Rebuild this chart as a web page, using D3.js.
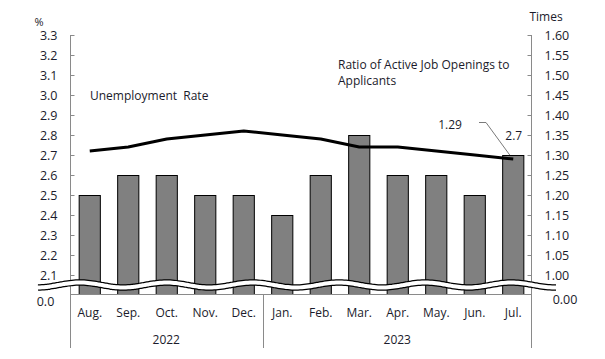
<!DOCTYPE html>
<html>
<head>
<meta charset="utf-8">
<script src="https://cdn.jsdelivr.net/npm/d3@7"></script>
<style>
  body { margin: 0; background: #fff; }
  svg text { font-family: "Open Sans", "Noto Sans", sans-serif; fill: #1b1b2b; }
</style>
</head>
<body>
<svg id="chart" width="605" height="359"></svg>
<script>
// data
var months = ["Aug.", "Sep.", "Oct.", "Nov.", "Dec.", "Jan.", "Feb.", "Mar.", "Apr.", "May.", "Jun.", "Jul."];
var years = [{ label: "2022", first: 0, last: 4 }, { label: "2023", first: 5, last: 11 }];
var unemployment = [2.5, 2.6, 2.6, 2.5, 2.5, 2.4, 2.6, 2.8, 2.6, 2.6, 2.5, 2.7];
var ratio = [1.31, 1.32, 1.34, 1.35, 1.36, 1.35, 1.34, 1.32, 1.32, 1.31, 1.30, 1.29];
var leftTicks = [2.1, 2.2, 2.3, 2.4, 2.5, 2.6, 2.7, 2.8, 2.9, 3.0, 3.1, 3.2, 3.3];
var rightTicks = [1.00, 1.05, 1.10, 1.15, 1.20, 1.25, 1.30, 1.35, 1.40, 1.45, 1.50, 1.55, 1.60];

var svg = d3.select("#chart");
var plotLeft = 70, plotRight = 532, plotTop = 35, base = 294, plotBottom = 348;
var axisColor = "#8a8a8a";

var x = d3.scaleBand()
          .domain(months)
          .range([plotLeft, plotRight])
          .paddingInner(0.45)
          .paddingOuter(0.225);

var yL = d3.scaleLinear().domain([2.0, 3.3]).range([base + 1, plotTop]);
var yR = d3.scaleLinear().domain([1.0, 1.6]).range([yL(2.1), plotTop]);

// bars
svg.append("g").selectAll("rect")
   .data(unemployment)
   .enter().append("rect")
   .attr("x", function(d, i) { return x(months[i]) + 0.5; })
   .attr("y", function(d) { return yL(d) + 0.5; })
   .attr("width", x.bandwidth())
   .attr("height", function(d) { return base - yL(d); })
   .attr("fill", "#808080")
   .attr("stroke", "#000")
   .attr("stroke-width", 1);

// axes
var leftAxis = d3.axisRight(yL).tickValues(leftTicks).tickSize(4).tickFormat(d3.format(".1f"));
var gL = svg.append("g").attr("transform", "translate(" + (plotLeft + 0.5) + ",0)").call(leftAxis);
gL.select(".domain").remove();
gL.selectAll(".tick line").attr("stroke", axisColor);
gL.selectAll(".tick text").attr("x", -13).attr("text-anchor", "end").attr("font-size", 12.5);

var rightAxis = d3.axisLeft(yR).tickValues(rightTicks).tickSize(4).tickFormat(d3.format(".2f"));
var gR = svg.append("g").attr("transform", "translate(" + (plotRight - 0.5) + ",0)").call(rightAxis);
gR.select(".domain").remove();
gR.selectAll(".tick line").attr("stroke", axisColor);
gR.selectAll(".tick text").attr("x", 13).attr("text-anchor", "start").attr("font-size", 12.5);
svg.selectAll(".tick text").attr("fill", "#1b1b2b").style("font-family", "'Open Sans', 'Noto Sans', sans-serif");

var frame = svg.append("g").attr("stroke", axisColor).attr("stroke-width", 1);
frame.append("line").attr("x1", plotLeft + 0.5).attr("x2", plotLeft + 0.5).attr("y1", plotTop).attr("y2", plotBottom);
frame.append("line").attr("x1", plotRight - 0.5).attr("x2", plotRight - 0.5).attr("y1", plotTop).attr("y2", plotBottom);
frame.append("line").attr("x1", plotLeft).attr("x2", plotRight).attr("y1", base + 0.5).attr("y2", base + 0.5);
var split = x(months[years[1].first]) - x.step() * x.paddingInner() / 2;
frame.append("line").attr("x1", Math.round(split) + 0.5).attr("x2", Math.round(split) + 0.5)
     .attr("y1", base).attr("y2", plotBottom);

// axis break wave
var wavePts = d3.range(38, 557, 2).map(function(px) {
  return [px, 285 - 2.5 * Math.cos((px - 80) / 86.3 * 2 * Math.PI)];
});
var wave = d3.line().curve(d3.curveBasis);
svg.append("path").attr("d", wave(wavePts)).attr("fill", "none").attr("stroke", "#000").attr("stroke-width", 6.5);
svg.append("path").attr("d", wave(wavePts)).attr("fill", "none").attr("stroke", "#fff").attr("stroke-width", 4);

svg.append("text").attr("x", 45.5).attr("y", 306).attr("text-anchor", "middle").attr("font-size", 12.5).text("0.0");
svg.append("text").attr("x", 565).attr("y", 304).attr("text-anchor", "middle").attr("font-size", 12.5).text("0.00");

// ratio line
var line = d3.line()
             .x(function(d, i) { return x(months[i]) + x.bandwidth() / 2 + 0.5; })
             .y(function(d) { return yR(d); });
svg.append("path")
   .datum(ratio)
   .attr("d", line)
   .attr("fill", "none")
   .attr("stroke", "#000")
   .attr("stroke-width", 3)
   .attr("stroke-linejoin", "round");

// category labels
svg.append("g").selectAll("text")
   .data(months)
   .enter().append("text")
   .attr("x", function(d) { return x(d) + x.bandwidth() / 2 + 0.5; })
   .attr("y", 317)
   .attr("text-anchor", "middle")
   .attr("font-size", 12)
   .text(function(d) { return d; });

svg.append("g").selectAll("text")
   .data(years)
   .enter().append("text")
   .attr("x", function(d) {
     return (x(months[d.first]) + x(months[d.last]) + x.bandwidth()) / 2;
   })
   .attr("y", 344)
   .attr("text-anchor", "middle")
   .attr("font-size", 12)
   .text(function(d) { return d.label; });

// titles and labels
svg.append("text").attr("x", 39).attr("y", 26).attr("text-anchor", "middle").attr("font-size", 11).text("%");
svg.append("text").attr("x", 546).attr("y", 21).attr("text-anchor", "middle").attr("font-size", 12).text("Times");
svg.append("text").attr("x", 90).attr("y", 100).attr("font-size", 12)
   .style("white-space", "pre").text("Unemployment  Rate");
svg.append("text").attr("x", 338).attr("y", 69).attr("font-size", 12).text("Ratio of Active Job Openings to");
svg.append("text").attr("x", 338).attr("y", 85).attr("font-size", 12).text("Applicants");

var last = months.length - 1;
var lx = x(months[last]) + x.bandwidth() / 2;
svg.append("text").attr("x", 450).attr("y", 129).attr("text-anchor", "middle").attr("font-size", 12)
   .text(d3.format(".2f")(ratio[last]));
svg.append("polyline")
   .attr("points", [[479, 122.5], [486, 122.5], [lx - 3, yR(ratio[last]) - 4]].join(" "))
   .attr("fill", "none").attr("stroke", "#7a7a7a").attr("stroke-width", 1);
svg.append("text").attr("x", lx + 1).attr("y", yL(unemployment[last]) - 15).attr("text-anchor", "middle").attr("font-size", 12)
   .text(unemployment[last]);
</script>
</body>
</html>
